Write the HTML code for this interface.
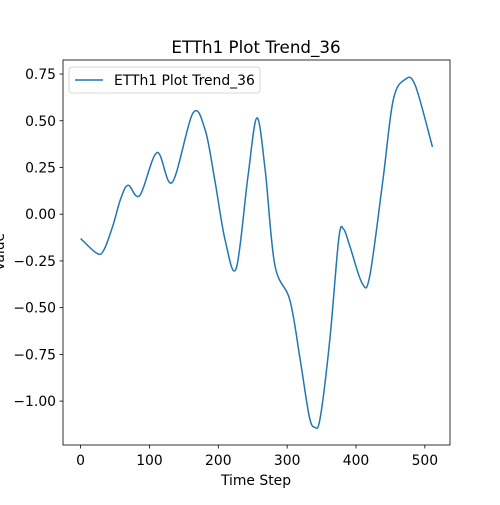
<!DOCTYPE html>
<html><head><meta charset="utf-8"><style>
body{margin:0;background:#fff}
svg text{font-family:"DejaVu Sans","Liberation Sans",sans-serif;fill:#000}
</style></head><body>
<svg id="chart" width="500" height="500" xmlns="http://www.w3.org/2000/svg">
<rect width="500" height="500" fill="#fff"/>
<text x="256" y="53" font-size="16.7" text-anchor="middle">ETTh1 Plot Trend_36</text>
<g id="xt"></g>
<g id="yt"></g>
<path id="line" fill="none" stroke="#1f77b4" stroke-width="1.5"/>
<rect x="63" y="60" width="387" height="385" fill="none" stroke="#000" stroke-width="0.8"/>
<text x="256" y="485" font-size="13.9" text-anchor="middle">Time Step</text>
<text transform="translate(4,252) rotate(-90)" font-size="13.9" text-anchor="middle">Value</text>
<g>
<rect x="69" y="67" width="191" height="26" rx="3" fill="#fff" fill-opacity="0.8" stroke="#ccc" stroke-width="0.8"/>
<line x1="75" y1="80" x2="103" y2="80" stroke="#1f77b4" stroke-width="1.5"/>
<text x="114" y="85" font-size="13.9">ETTh1 Plot Trend_36</text>
</g>
</svg>
<script>
const xs=[0,24,34,47,58,69,86,111,133,163,181,195,210,226,243,256,268,282,304,319,332,340,348,362,375,382,391,409,420,439,454,471,486,511];
const ys=[-0.13,-0.21,-0.19,-0.06,0.08,0.155,0.10,0.33,0.17,0.54,0.45,0.18,-0.14,-0.29,0.2,0.515,0.24,-0.27,-0.46,-0.78,-1.08,-1.14,-1.09,-0.67,-0.13,-0.08,-0.17,-0.37,-0.33,0.18,0.61,0.72,0.69,0.36];
const xTicks=[0,100,200,300,400,500];
const yTicks=[-1.00,-0.75,-0.50,-0.25,0.00,0.25,0.50,0.75];
const X=v=>80.6+v*0.6885;
const Y=v=>214.2-v*186.9;
const NS="http://www.w3.org/2000/svg";
const xt=document.getElementById('xt'),yt=document.getElementById('yt');
xTicks.forEach(t=>{
 const l=document.createElementNS(NS,'line');
 l.setAttribute('x1',X(t));l.setAttribute('x2',X(t));l.setAttribute('y1',445);l.setAttribute('y2',448.5);l.setAttribute('stroke','#000');l.setAttribute('stroke-width','0.8');
 
 
 xt.appendChild(l);
 const s=document.createElementNS(NS,'text');
 s.setAttribute('x',X(t));s.setAttribute('y',465);s.setAttribute('font-size','13.9');s.setAttribute('text-anchor','middle');s.textContent=t;
 
 
 xt.appendChild(s);
});
yTicks.forEach(t=>{
 const l=document.createElementNS(NS,'line');
 l.setAttribute('x1',59.5);l.setAttribute('x2',63);l.setAttribute('y1',Y(t));l.setAttribute('y2',Y(t));l.setAttribute('stroke','#000');l.setAttribute('stroke-width','0.8');
 
 
 yt.appendChild(l);
 const s=document.createElementNS(NS,'text');
 s.setAttribute('x',56);s.setAttribute('y',Y(t)+5);s.setAttribute('font-size','13.9');s.setAttribute('text-anchor','end');s.textContent=t.toFixed(2).replace('-','\u2212');
 
 
 yt.appendChild(s);
});
const P=xs.map((x,i)=>[X(x),Y(ys[i])]);
let d='M'+P[0][0]+','+P[0][1];
for(let i=0;i<P.length-1;i++){
 const p0=P[Math.max(i-1,0)],p1=P[i],p2=P[i+1],p3=P[Math.min(i+2,P.length-1)];
 const c1=[p1[0]+(p2[0]-p0[0])/6,p1[1]+(p2[1]-p0[1])/6];
 const c2=[p2[0]-(p3[0]-p1[0])/6,p2[1]-(p3[1]-p1[1])/6];
 d+=' C'+c1+' '+c2+' '+p2;
}
document.getElementById('line').setAttribute('d',d);
</script>
</body></html>
